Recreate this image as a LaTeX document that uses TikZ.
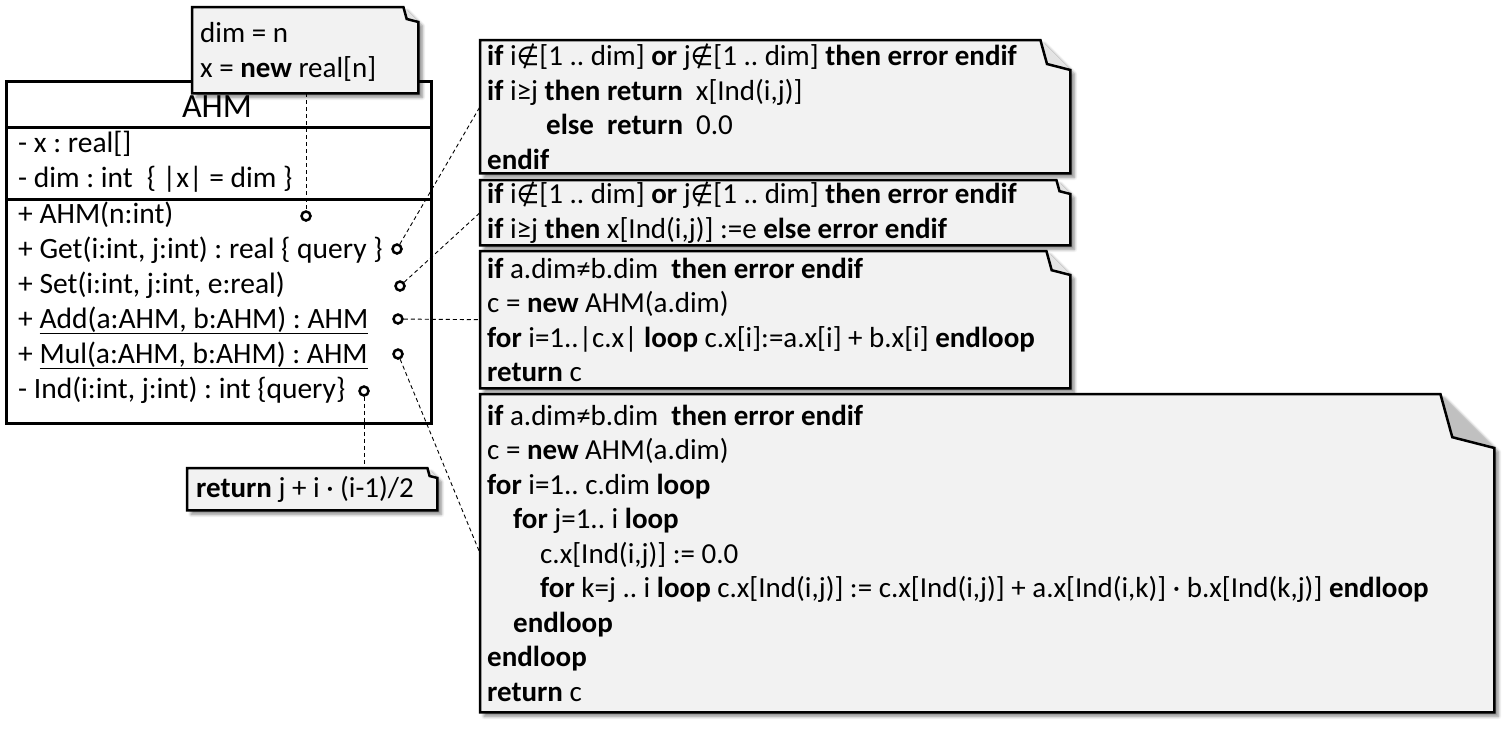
\documentclass[tikz,border=0pt]{standalone}
\usepackage{fontspec}
\setmainfont{Carlito}
\newfontfamily\symfont{DejaVu Sans}
\usetikzlibrary{calc,shadows.blur}
\definecolor{notefill}{HTML}{F2F2F2}
\definecolor{foldgray}{HTML}{C0C0C0}
\definecolor{foldlight}{HTML}{E4E4E4}
\newcommand\kw[1]{\textbf{#1}}
\newcommand\nin{{\symfont\scalebox{0.9}{∉}}}
% dog-eared outline around a named node: #1 node, #2 fold size, #3 fold colour
\newcommand\notedecor[3]{%
  \path[noteshadow, fill=notefill] (#1.north west) -- ($(#1.north east)+(-#2,0)$)
    -- ($(#1.north east)+(0,#2)$) -- (#1.south east) -- (#1.south west) -- cycle;
  \fill[#3] ($(#1.north east)+(-#2,0)$) -- ($(#1.north east)+(-0.78*#2,0.8*#2)$)
    -- ($(#1.north east)+(0,#2)$) -- cycle;
  \draw[noteline] (#1.north west) -- ($(#1.north east)+(-#2,0)$)
    -- ($(#1.north east)+(-0.78*#2,0.8*#2)$) -- ($(#1.north east)+(0,#2)$)
    -- (#1.south east) -- (#1.south west) -- cycle;}
% a note: #1 name, #2 x, #3 y (top left), #4 width, #5 height, #6 fold, #7 fold colour, #8 left padding, #9 text
\newcommand\notebox[9]{%
  \node[notebody, minimum width=#4pt, minimum height=#5pt] (#1) at (#2,#3) {};
  \notedecor{#1}{#6}{#7}
  \node[notetext, inner xsep=#8pt] (#1-t) at (#1.west) {#9};}
\begin{document}
\frenchspacing
\begin{tikzpicture}[x=1pt,y=-1pt,
  every node/.style={font=\fontsize{29}{34.5}\selectfont},
  classframe/.style={draw, line width=3pt, rectangle, inner sep=0pt},
  classline/.style={line width=3pt},
  member/.style={anchor=base west, inner sep=0pt, font=\fontsize{29.5}{35}\selectfont},
  notebody/.style={anchor=north west, rectangle, inner sep=0pt},
  notetext/.style={anchor=west, rectangle, inner ysep=0pt, align=left},
  noteline/.style={line width=2.5pt, line join=miter},
  noteshadow/.style={blur shadow={shadow xshift=4pt, shadow yshift=-4pt, shadow blur radius=3pt, shadow blur steps=6, shadow opacity=45}},
  port/.style={circle, draw, line width=2.5pt, fill=white, minimum size=9pt, inner sep=0pt},
  conn/.style={line width=0.9pt, dash pattern=on 4pt off 3pt}]
\useasboundingbox (0,0) rectangle (1508,742);

% class AHM
\node[classframe, minimum width=425pt, minimum height=342pt, anchor=north west] (ahm) at (5,80) {};
\draw[classline] ($(ahm.north west)+(0,47)$) -- ($(ahm.north east)+(0,47)$);
\draw[classline] ($(ahm.north west)+(0,119)$) -- ($(ahm.north east)+(0,119)$);
\node[anchor=base, inner sep=0pt, font=\fontsize{34}{40}\selectfont] (title) at (217,117) {AHM};
\node[member] (a-x) at (18,152) {- x : real[]};
\node[member] (a-dim) at (18,187) {- dim : int\hspace{14pt}\{ |x| = dim \}};
\node[member] (o-ctor) at (18,223) {+ AHM(n:int)};
\node[member] (o-get) at (18,258) {+ Get(i:int, j:int) : real \{ query \}};
\node[member] (o-set) at (18,293) {+ Set(i:int, j:int, e:real)};
\node[member] (o-add) at (18,328) {+ \underline{Add(a:AHM, b:AHM) : AHM}};
\node[member] (o-mul) at (18,363) {+ \underline{Mul(a:AHM, b:AHM) : AHM}};
\node[member] (o-ind) at (18,398) {- Ind(i:int, j:int) : int \{query\}};

% attachment points
\node[port] (p-ctor) at (306,216) {};
\node[port] (p-get) at (397,249) {};
\node[port] (p-set) at (400,286) {};
\node[port] (p-add) at (398,319) {};
\node[port] (p-mul) at (398,354) {};
\node[port] (p-ind) at (364,391) {};

% notes
\notebox{n-init}{192}{7}{226}{86}{15}{foldlight}{8}
  {\rule{0pt}{24pt}dim = n\\ x = \kw{new} real[n]}

\notebox{n-get}{480}{40}{590}{133}{30}{foldlight}{7}
  {\kw{if} i\nin[1 .. dim] \kw{or} j\nin[1 .. dim] \kw{then error endif}\\
   \kw{if} i≥j \kw{then return}~ x[Ind(i,j)]\\
   \hspace*{59pt}\kw{else~ return}~ 0.0\\
   \kw{endif}}

\notebox{n-set}{480}{180}{590}{65}{14}{foldlight}{7}
  {\kw{if} i\nin[1 .. dim] \kw{or} j\nin[1 .. dim] \kw{then error endif}\\
   \kw{if} i≥j \kw{then} x[Ind(i,j)] :=e \kw{else error endif}}

\notebox{n-add}{480}{251}{590}{137}{24}{foldlight}{7}
  {\kw{if} a.dim≠b.dim~ \kw{then error endif}\\
   c = \kw{new} AHM(a.dim)\\
   \kw{for} i=1..|c.x| \kw{loop} c.x[i]:=a.x[i] + b.x[i] \kw{endloop}\\
   \kw{return} c}

\notebox{n-mul}{480}{394}{1014}{318}{54}{foldgray}{7}
  {\kw{if} a.dim≠b.dim~ \kw{then error endif}\\
   c = \kw{new} AHM(a.dim)\\
   \kw{for} i=1..~c.dim \kw{loop}\\
   \hspace*{26pt}\kw{for} j=1..~i \kw{loop}\\
   \hspace*{53pt}c.x[Ind(i,j)] := 0.0\\
   \hspace*{53pt}\kw{for} k=j .. i \kw{loop} c.x[Ind(i,j)] := c.x[Ind(i,j)] + a.x[Ind(i,k)] · b.x[Ind(k,j)] \kw{endloop}\\
   \hspace*{26pt}\kw{endloop}\\
   \kw{endloop}\\
   \kw{return} c}

\notebox{n-ind}{187}{468}{250}{42}{10}{foldlight}{9}
  {\kw{return} j + i · (i-1)/2}

% anchor lines
\draw[conn] (p-ctor |- n-init.south) -- (p-ctor);
\draw[conn] (p-get) -- (n-get.west);
\draw[conn] (p-set) -- (n-set.west);
\draw[conn] (p-add) -- (n-add.west);
\draw[conn] (p-mul) -- (n-mul.west);
\draw[conn] (p-ind) -- (p-ind |- n-ind.north);
\end{tikzpicture}
\end{document}
